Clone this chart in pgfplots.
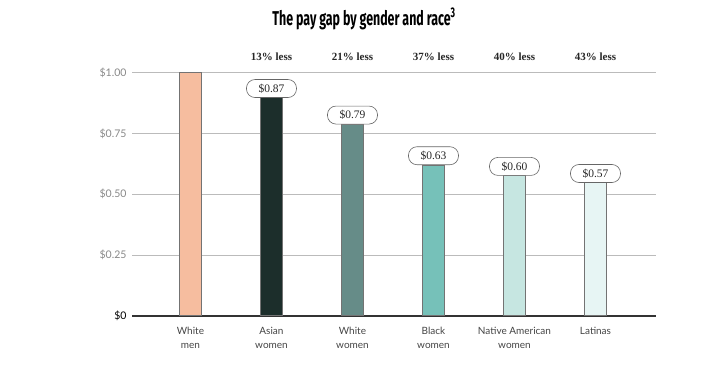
\documentclass[border=0pt]{standalone}
\usepackage{fontspec}
\setmainfont{Lato}
\newfontfamily\seriffont{Liberation Serif}
\newfontfamily\titlefont{Fira Sans}
\usepackage{pgfplots}
\pgfplotsset{compat=1.18}
\usepackage{graphicx}
\definecolor{cWM}{HTML}{F6BD9F}
\definecolor{cAW}{HTML}{1C2E2B}
\definecolor{cWW}{HTML}{668C88}
\definecolor{cBW}{HTML}{76C1B9}
\definecolor{cNA}{HTML}{C6E6E1}
\definecolor{cLA}{HTML}{E7F5F4}
\definecolor{gridc}{HTML}{BBBBBB}
\definecolor{tickc}{HTML}{888888}
\definecolor{labc}{HTML}{444444}
\pgfplotsset{valbox/.style={point meta=explicit symbolic, nodes near coords,
  every node near coord/.style={draw=black!60, line width=0.6pt, fill=white, rounded corners=8.5pt, minimum width=50pt, minimum height=18pt, inner sep=1pt, anchor=south, font=\seriffont\fontsize{11.5}{13}\selectfont, text=black!85}}}
\begin{document}
\begin{tikzpicture}
\useasboundingbox (0,0) rectangle (716pt,374pt);
\node at (364pt,355pt) {\scalebox{0.62}[1]{\titlefont\bfseries\fontsize{20}{23}\selectfont The pay gap by gender and race\textsuperscript{3}}};
\begin{axis}[
  at={(132pt,58pt)}, anchor=south west,
  scale only axis, width=524pt, height=243.5pt,
  xmin=-0.722, xmax=5.747, ymin=0, ymax=1,
  clip=false,
  axis y line*=left,
  y axis line style={draw=none},
  axis x line*=bottom,
  x axis line style={-, draw=black!80, line width=1.2pt},
  ymajorgrids, grid style={gridc, line width=0.8pt},
  ytick={0,0.25,0.5,0.75,1},
  yticklabels={\textcolor{black}{\$0},\$0.25,\$0.50,\$0.75,\$1.00},
  yticklabel style={font=\fontsize{10.5}{12}\selectfont, text=tickc, xshift=-2pt},
  xtick={0,1,2,3,4,5},
  xticklabels={White\\men, Asian\\women, White\\women, Black\\women, Native American\\women, Latinas},
  xticklabel style={align=center, font=\fontsize{10}{13.5}\selectfont, text=labc, yshift=-8pt, anchor=north},
  major tick length=0pt,
  ybar, bar width=22.5pt, bar shift=0pt,
  every axis plot/.append style={draw=black!55, line width=1pt},
]
\addplot[fill=cWM] coordinates {(0,1.0)};
\addplot[fill=cAW, valbox] coordinates {(1,0.896) [\$0.87]};
\addplot[fill=cWW, valbox] coordinates {(2,0.787) [\$0.79]};
\addplot[fill=cBW, valbox] coordinates {(3,0.62) [\$0.63]};
\addplot[fill=cNA, valbox] coordinates {(4,0.576) [\$0.60]};
\addplot[fill=cLA, valbox] coordinates {(5,0.547) [\$0.57]};
\node[font=\seriffont\bfseries\fontsize{11}{12}\selectfont, text=black!85] at (axis cs:1,1.064) {13\% less};
\node[font=\seriffont\bfseries\fontsize{11}{12}\selectfont, text=black!85] at (axis cs:2,1.064) {21\% less};
\node[font=\seriffont\bfseries\fontsize{11}{12}\selectfont, text=black!85] at (axis cs:3,1.064) {37\% less};
\node[font=\seriffont\bfseries\fontsize{11}{12}\selectfont, text=black!85] at (axis cs:4,1.064) {40\% less};
\node[font=\seriffont\bfseries\fontsize{11}{12}\selectfont, text=black!85] at (axis cs:5,1.064) {43\% less};
\end{axis}
\end{tikzpicture}
\end{document}
